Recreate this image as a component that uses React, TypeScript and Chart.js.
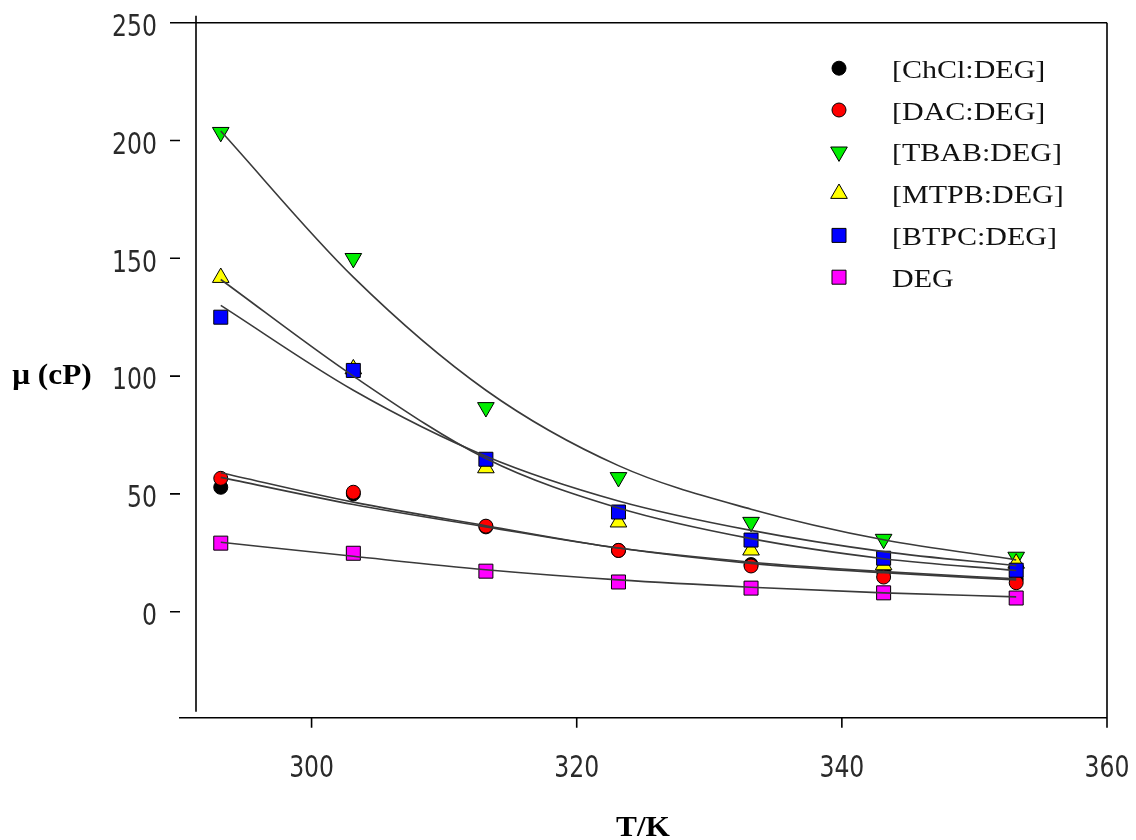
import React, { useEffect, useRef } from "react";
import { Chart, registerables } from "chart.js";

Chart.register(...registerables);

// ---- data ----
const temperatures = [293.15, 303.15, 313.15, 323.15, 333.15, 343.15, 353.15];

const chclDeg = [52.8, 50.0, 36.0, 26.0, 20.0, 17.0, 13.8];
const dacDeg = [56.6, 50.7, 36.3, 26.0, 19.4, 14.7, 12.3];
const tbabDeg = [203.5, 150.0, 86.7, 57.0, 38.0, 30.8, 23.2];
const mtpbDeg = [141.8, 103.0, 61.0, 38.0, 26.1, 19.8, 20.5];
const btpcDeg = [125.0, 102.4, 64.7, 42.3, 30.4, 22.7, 17.6];
const deg = [29.1, 24.8, 17.2, 12.6, 10.0, 8.0, 5.8];

// fitted curves at the same temperatures
const chclFit = [57.0, 45.5, 36.0, 27.0, 21.0, 17.0, 14.0];
const dacFit = [59.0, 46.5, 36.5, 27.0, 20.5, 16.5, 13.5];
const tbabFit = [204.0, 142.0, 94.0, 62.0, 43.5, 30.5, 22.0];
const mtpbFit = [141.0, 100.0, 65.0, 44.0, 31.0, 22.5, 17.5];
const btpcFit = [130.0, 94.0, 66.0, 47.0, 34.5, 25.5, 19.5];
const degFit = [29.5, 23.5, 17.8, 13.5, 10.4, 8.0, 6.3];

const seriesLabels = ["[ChCl:DEG]", "[DAC:DEG]", "[TBAB:DEG]", "[MTPB:DEG]", "[BTPC:DEG]", "DEG"];
const xTicks = [300, 320, 340, 360];
const yTicks = [0, 50, 100, 150, 200, 250];
const xTitle = "T/K";
const yTitle = "μ (cP)";

// ---- styles ----
const W = 1136;
const H = 840;
const markerColors = ["#000000", "#ff0000", "#00ee00", "#ffff00", "#0000ff", "#ff00ff"];
const markerStyles = ["circle", "circle", "triangle", "triangle", "rect", "rect"];
const markerRotations = [0, 0, 180, 0, 0, 0];
const markerRadii = [7, 7, 9.6, 9.6, 9.9, 9.9];
const fitColor = "#3a3a3a";

function scaledText(
  ctx: CanvasRenderingContext2D,
  text: string,
  x: number,
  y: number,
  sx: number,
  sy: number,
  align: CanvasTextAlign
) {
  ctx.save();
  ctx.translate(x, y);
  ctx.scale(sx, sy);
  ctx.textAlign = align;
  ctx.textBaseline = "alphabetic";
  ctx.fillText(text, 0, 0);
  ctx.restore();
}

function drawMarker(ctx: CanvasRenderingContext2D, i: number, x: number, y: number) {
  const style = markerStyles[i];
  const r = markerRadii[i];
  ctx.save();
  ctx.fillStyle = markerColors[i];
  ctx.strokeStyle = "#000";
  ctx.lineWidth = 1;
  ctx.beginPath();
  if (style === "circle") {
    ctx.arc(x, y, r, 0, Math.PI * 2);
  } else if (style === "rect") {
    const s = r * Math.SQRT1_2;
    ctx.rect(x - s, y - s, 2 * s, 2 * s);
  } else {
    let rad = (markerRotations[i] * Math.PI) / 180;
    ctx.moveTo(x + Math.sin(rad) * r, y - Math.cos(rad) * r);
    rad += (2 * Math.PI) / 3;
    ctx.lineTo(x + Math.sin(rad) * r, y - Math.cos(rad) * r);
    rad += (2 * Math.PI) / 3;
    ctx.lineTo(x + Math.sin(rad) * r, y - Math.cos(rad) * r);
    ctx.closePath();
  }
  ctx.fill();
  ctx.stroke();
  ctx.restore();
}

const framePlugin = {
  id: "sigmaFrame",
  beforeDatasetsDraw(chart: any) {
    const ctx: CanvasRenderingContext2D = chart.ctx;
    const xs = chart.scales.x;
    const ys = chart.scales.y;
    const top = ys.getPixelForValue(yTicks[yTicks.length - 1]);
    const bottom = ys.bottom;
    const left = xs.left;
    const right = xs.getPixelForValue(xTicks[xTicks.length - 1]);
    const yAxisX = left + 17;
    const tickL = left - 9;
    const tickR = left + 1;

    ctx.save();
    ctx.strokeStyle = "#000";
    ctx.lineWidth = 1.6;
    ctx.lineCap = "butt";
    ctx.beginPath();
    // top frame line (also the 250 tick)
    ctx.moveTo(tickL, top);
    ctx.lineTo(right, top);
    // right frame line with its tick
    ctx.moveTo(right, top);
    ctx.lineTo(right, bottom + 10);
    // x axis
    ctx.moveTo(left, bottom);
    ctx.lineTo(right, bottom);
    // y axis (offset)
    ctx.moveTo(yAxisX, top - 7);
    ctx.lineTo(yAxisX, bottom - 6);
    // x ticks
    for (const v of xTicks) {
      const px = xs.getPixelForValue(v);
      ctx.moveTo(px, bottom);
      ctx.lineTo(px, bottom + 10);
    }
    // y ticks
    for (const v of yTicks) {
      const py = ys.getPixelForValue(v);
      ctx.moveTo(tickL, py);
      ctx.lineTo(tickR, py);
    }
    ctx.stroke();

    // tick labels
    ctx.fillStyle = "#2a2a2a";
    ctx.font = '24px "DejaVu Sans", sans-serif';
    for (const v of xTicks) {
      scaledText(ctx, String(v), xs.getPixelForValue(v), bottom + 59, 0.98, 1.24, "center");
    }
    for (const v of yTicks) {
      scaledText(ctx, String(v), left - 22, ys.getPixelForValue(v) + 13.3, 0.98, 1.24, "right");
    }

    // axis titles
    ctx.fillStyle = "#000";
    ctx.font = 'bold 29px "Liberation Serif", "Times New Roman", serif';
    scaledText(ctx, xTitle, (left + right) / 2, bottom + 118, 1.08, 1, "center");
    scaledText(ctx, yTitle, 52, ys.getPixelForValue(100) + 8, 1.08, 1, "center");

    ctx.restore();
  },
  afterDraw(chart: any) {
    const ctx: CanvasRenderingContext2D = chart.ctx;
    const xs = chart.scales.x;
    const ys = chart.scales.y;
    const top = ys.getPixelForValue(yTicks[yTicks.length - 1]);
    const markerX = xs.right - 268;
    const textX = xs.right - 215;
    ctx.save();
    seriesLabels.forEach((label, i) => {
      const y = top + 45.5 + i * 41.8;
      drawMarker(ctx, i, markerX, y);
      ctx.fillStyle = "#111";
      ctx.font = '25px "Liberation Serif", "Times New Roman", serif';
      scaledText(ctx, label, textX, y + 9.5, 1.2, 1, "left");
    });
    ctx.restore();
  },
};

export default function App() {
  const canvasRef = useRef<HTMLCanvasElement | null>(null);

  useEffect(() => {
    document.body.style.margin = "0";
    const canvas = canvasRef.current;
    if (!canvas) return;

    const pointSeries = [chclDeg, dacDeg, tbabDeg, mtpbDeg, btpcDeg, deg];
    const fitSeries = [chclFit, dacFit, tbabFit, mtpbFit, btpcFit, degFit];

    const pointDatasets = pointSeries.map((vals, i) => ({
      label: seriesLabels[i],
      data: temperatures.map((t, j) => ({ x: t, y: vals[j] })),
      showLine: false,
      pointStyle: markerStyles[i],
      rotation: markerRotations[i],
      pointRadius: markerRadii[i],
      pointBackgroundColor: markerColors[i],
      pointBorderColor: "#000",
      pointBorderWidth: 1,
      backgroundColor: markerColors[i],
      borderColor: "#000",
      order: 20 - i,
    }));

    const fitDatasets = fitSeries.map((vals, i) => ({
      label: seriesLabels[i] + " fit",
      data: temperatures.map((t, j) => ({ x: t, y: vals[j] })),
      showLine: true,
      pointRadius: 0,
      borderColor: fitColor,
      borderWidth: 1.6,
      cubicInterpolationMode: "monotone" as const,
      fill: false,
      order: i,
    }));

    const chart = new Chart(canvas, {
      type: "scatter",
      data: { datasets: [...fitDatasets, ...pointDatasets] as any },
      options: {
        animation: false,
        responsive: false,
        devicePixelRatio: 1,
        layout: { padding: { left: 179, right: 29, top: 22.7, bottom: 122.3 } },
        scales: {
          x: { type: "linear", min: 290, max: 360, display: false },
          y: { type: "linear", min: -45, max: 250, display: false },
        },
        plugins: {
          legend: { display: false },
          tooltip: { enabled: false },
          title: { display: false },
        },
      },
      plugins: [framePlugin],
    });

    return () => chart.destroy();
  }, []);

  return (
    <div style={{ width: W, height: H, background: "#fff" }}>
      <canvas ref={canvasRef} width={W} height={H} style={{ display: "block", width: W, height: H }} />
    </div>
  );
}
